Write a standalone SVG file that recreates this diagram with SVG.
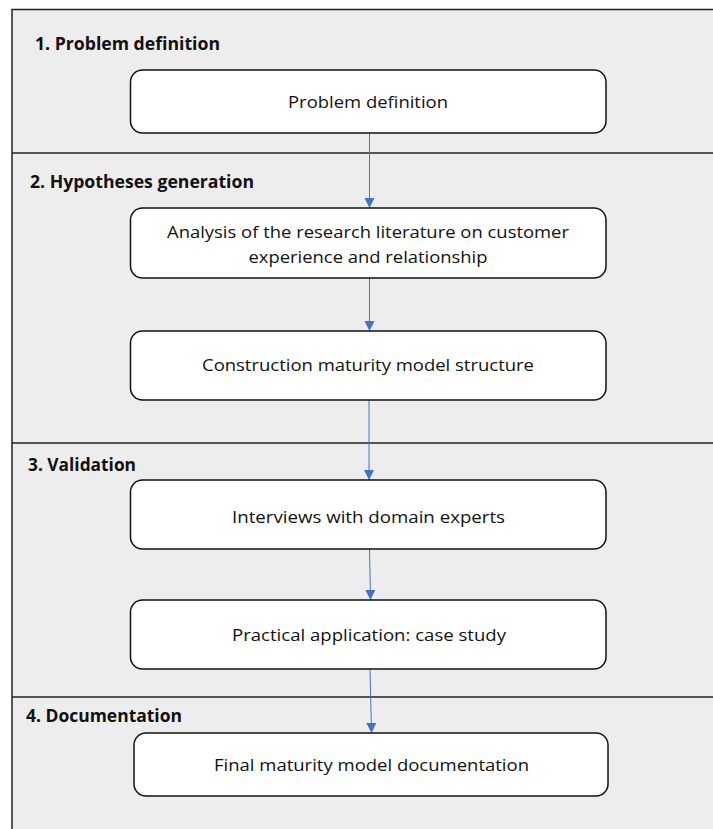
<svg xmlns="http://www.w3.org/2000/svg" width="713" height="829" viewBox="0 0 713 829">
<style>
.bg{fill:#ededed}
.frame{stroke:#222;stroke-width:1.5;fill:none}
.box{fill:#fff;stroke:#111;stroke-width:1.5}
.hd{font-family:"Open Sans","Liberation Sans",sans-serif;font-weight:bold;font-size:18px;fill:#111}
.tx{font-family:"Open Sans","Liberation Sans",sans-serif;font-size:16.5px;fill:#111;text-anchor:middle}
.arr{stroke:#4472c4;stroke-width:1;fill:none;marker-end:url(#ah)}
</style>
<defs>
<marker id="ah" markerWidth="11" markerHeight="11" refX="10" refY="5" orient="auto" markerUnits="userSpaceOnUse">
<path d="M0,0 L10,5 L0,10 Z" fill="#4472c4"/>
</marker>
</defs>
<rect class="bg" x="12" y="9.5" width="701" height="819.5"/>
<g id="frame">
<path class="frame" d="M12,829 V9.5 H713"/>
<path class="frame" d="M12,153 H713 M12,443 H713 M12,697 H713"/>
</g>
<g id="headers">
<text class="hd" x="35" y="50" textLength="185" lengthAdjust="spacingAndGlyphs">1. Problem definition</text>
<text class="hd" x="30" y="188" textLength="224" lengthAdjust="spacingAndGlyphs">2. Hypotheses generation</text>
<text class="hd" x="28" y="471" textLength="108" lengthAdjust="spacingAndGlyphs">3. Validation</text>
<text class="hd" x="26" y="722" textLength="156" lengthAdjust="spacingAndGlyphs">4. Documentation</text>
</g>
<g id="connectors">
<line class="arr" x1="369.5" y1="133" x2="369.5" y2="208"/>
<line class="arr" x1="369.5" y1="278" x2="369.5" y2="331"/>
<line class="arr" x1="369" y1="400" x2="369" y2="480"/>
<line class="arr" x1="369.5" y1="549" x2="370.5" y2="600"/>
<line class="arr" x1="370" y1="669" x2="371.5" y2="733"/>
</g>
<g id="n1">
<rect class="box" x="130.5" y="70" width="475.5" height="63" rx="12"/>
<text class="tx" x="368" y="108" textLength="160" lengthAdjust="spacingAndGlyphs">Problem definition</text>
</g>
<g id="n2">
<rect class="box" x="130.5" y="208" width="475.5" height="70" rx="12"/>
<text class="tx" x="368" y="238" textLength="402" lengthAdjust="spacingAndGlyphs">Analysis of the research literature on customer</text>
<text class="tx" x="368" y="263" textLength="239" lengthAdjust="spacingAndGlyphs">experience and relationship</text>
</g>
<g id="n3">
<rect class="box" x="130.5" y="331" width="475.5" height="69" rx="12"/>
<text class="tx" x="368" y="371" textLength="332" lengthAdjust="spacingAndGlyphs">Construction maturity model structure</text>
</g>
<g id="n4">
<rect class="box" x="130.5" y="480" width="475.5" height="69" rx="12"/>
<text class="tx" x="368.5" y="523" textLength="273" lengthAdjust="spacingAndGlyphs">Interviews with domain experts</text>
</g>
<g id="n5">
<rect class="box" x="130.5" y="600" width="475.5" height="69" rx="12"/>
<text class="tx" x="369" y="641" textLength="274" lengthAdjust="spacingAndGlyphs">Practical application: case study</text>
</g>
<g id="n6">
<rect class="box" x="134" y="733" width="474" height="63" rx="12"/>
<text class="tx" x="371.5" y="771" textLength="315" lengthAdjust="spacingAndGlyphs">Final maturity model documentation</text>
</g>
</svg>
